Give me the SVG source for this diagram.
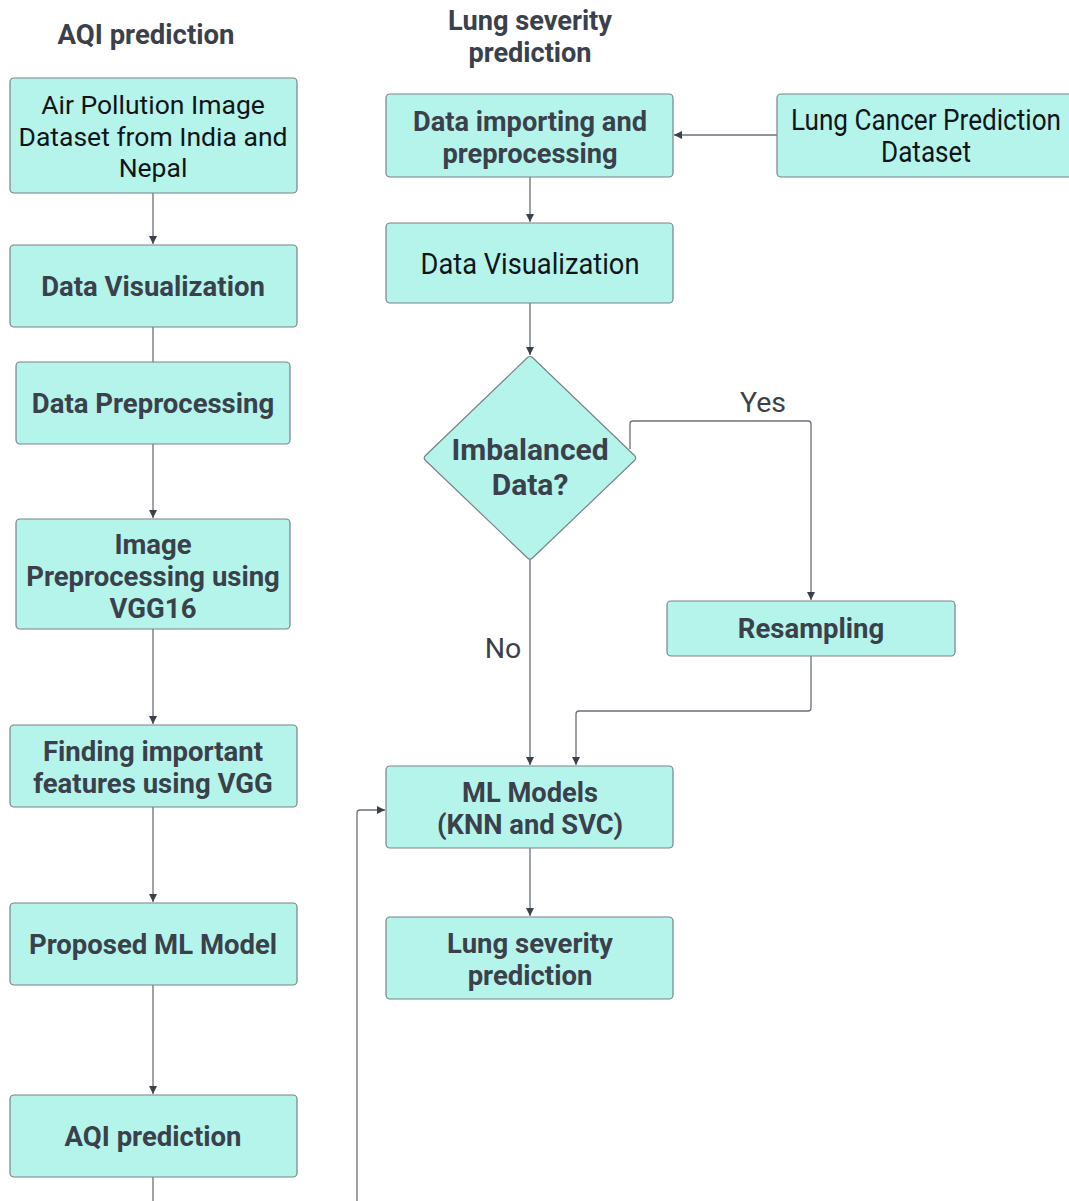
<svg xmlns="http://www.w3.org/2000/svg" width="1069" height="1201" viewBox="0 0 1069 1201">
<style>
.box{fill:#b5f4ea;stroke:#7b8189;stroke-width:1.2}
.b{font-family:Roboto,"Liberation Sans",sans-serif;font-weight:bold;font-size:27.5px;fill:#3a414b;text-anchor:middle}
.r{font-family:Roboto,"Liberation Sans",sans-serif;font-size:26.5px;fill:#111418;text-anchor:middle}
.rc{font-family:Roboto,"Liberation Sans",sans-serif;font-size:29px;fill:#111418;text-anchor:middle}
.lbl{font-family:Roboto,"Liberation Sans",sans-serif;font-size:28.5px;fill:#3a414b;text-anchor:middle}
.c{fill:none;stroke:#6a7079;stroke-width:1.3}
</style>
<defs>
<marker id="ah" viewBox="0 0 10 10" refX="10" refY="5" markerWidth="8" markerHeight="8" markerUnits="userSpaceOnUse" orient="auto">
<path d="M0,0 L10,5 L0,10 z" fill="#3a414b"/>
</marker>
</defs>
<rect width="1069" height="1201" fill="#ffffff"/>
<g id="titles">
<text class="b" x="146" y="44">AQI prediction</text>
<text class="b" x="530" y="30" textLength="164" lengthAdjust="spacingAndGlyphs">Lung severity</text>
<text class="b" x="530" y="62" textLength="123" lengthAdjust="spacingAndGlyphs">prediction</text>
</g>
<g id="connectors">
<path class="c" d="M153,193 V244" marker-end="url(#ah)"/>
<path class="c" d="M153,327 V362"/>
<path class="c" d="M153,444 V518" marker-end="url(#ah)"/>
<path class="c" d="M153,629 V724" marker-end="url(#ah)"/>
<path class="c" d="M153,807 V902" marker-end="url(#ah)"/>
<path class="c" d="M153,985 V1094" marker-end="url(#ah)"/>
<path class="c" d="M153,1177 V1201"/>
<path class="c" d="M777,135 H674" marker-end="url(#ah)"/>
<path class="c" d="M530,177 V222" marker-end="url(#ah)"/>
<path class="c" d="M530,303 V355" marker-end="url(#ah)"/>
<path class="c" d="M630,449 V424 Q630,421 633,421 H808 Q811,421 811,424 V600" marker-end="url(#ah)"/>
<path class="c" d="M530,560 V765" marker-end="url(#ah)"/>
<path class="c" d="M811,656 V708 Q811,711 808,711 H579 Q576,711 576,714 V765" marker-end="url(#ah)"/>
<path class="c" d="M530,848 V916" marker-end="url(#ah)"/>
<path class="c" d="M357,1201 V813 Q357,810 360,810 H385" marker-end="url(#ah)"/>
<text class="lbl" x="763" y="412">Yes</text>
<text class="lbl" x="503" y="658">No</text>
</g>
<g id="n1"><rect class="box" x="10" y="78" width="287" height="115" rx="4"/>
<text class="r" x="153" y="114">Air Pollution Image</text>
<text class="r" x="153" y="146">Dataset from India and</text>
<text class="r" x="153" y="177">Nepal</text></g>
<g id="n2"><rect class="box" x="10" y="245" width="287" height="82" rx="4"/>
<text class="b" x="153" y="296">Data Visualization</text></g>
<g id="n3"><rect class="box" x="16" y="362" width="274" height="82" rx="4"/>
<text class="b" x="153" y="413">Data Preprocessing</text></g>
<g id="n4"><rect class="box" x="16" y="519" width="274" height="110" rx="4"/>
<text class="b" x="153" y="554">Image</text>
<text class="b" x="153" y="586">Preprocessing using</text>
<text class="b" x="153" y="618">VGG16</text></g>
<g id="n5"><rect class="box" x="10" y="725" width="287" height="82" rx="4"/>
<text class="b" x="153" y="761">Finding important</text>
<text class="b" x="153" y="793">features using VGG</text></g>
<g id="n6"><rect class="box" x="10" y="903" width="287" height="82" rx="4"/>
<text class="b" x="153" y="954">Proposed ML Model</text></g>
<g id="n7"><rect class="box" x="10" y="1095" width="287" height="82" rx="4"/>
<text class="b" x="153" y="1146">AQI prediction</text></g>
<g id="n8"><rect class="box" x="386" y="94" width="287" height="83" rx="4"/>
<text class="b" x="530" y="131" textLength="234" lengthAdjust="spacingAndGlyphs">Data importing and</text>
<text class="b" x="530" y="163" textLength="175" lengthAdjust="spacingAndGlyphs">preprocessing</text></g>
<g id="n9"><rect class="box" x="777" y="94" width="300" height="83" rx="4"/>
<text class="rc" x="926" y="130" textLength="270" lengthAdjust="spacingAndGlyphs">Lung Cancer Prediction</text>
<text class="rc" x="926" y="162" textLength="90" lengthAdjust="spacingAndGlyphs">Dataset</text></g>
<g id="n10"><rect class="box" x="386" y="223" width="287" height="80" rx="4"/>
<text class="rc" x="530" y="274" textLength="219" lengthAdjust="spacingAndGlyphs">Data Visualization</text></g>
<g id="n11"><path class="box" d="M527.5,357.5 Q530,355.5 532.5,357.5 L634.5,455.5 Q637,458 634.5,460.5 L532.5,558 Q530,560.5 527.5,558 L425.5,460.5 Q423,458 425.5,455.5 Z"/>
<text class="b" x="530" y="460" style="font-size:30px">Imbalanced</text>
<text class="b" x="530" y="495" style="font-size:30px">Data?</text></g>
<g id="n12"><rect class="box" x="667" y="601" width="288" height="55" rx="4"/>
<text class="b" x="811" y="638">Resampling</text></g>
<g id="n13"><rect class="box" x="386" y="766" width="287" height="82" rx="4"/>
<text class="b" x="530" y="802" textLength="136" lengthAdjust="spacingAndGlyphs">ML Models</text>
<text class="b" x="530" y="834" textLength="186" lengthAdjust="spacingAndGlyphs">(KNN and SVC)</text></g>
<g id="n14"><rect class="box" x="386" y="917" width="287" height="82" rx="4"/>
<text class="b" x="530" y="953">Lung severity</text>
<text class="b" x="530" y="985">prediction</text></g>
</svg>
